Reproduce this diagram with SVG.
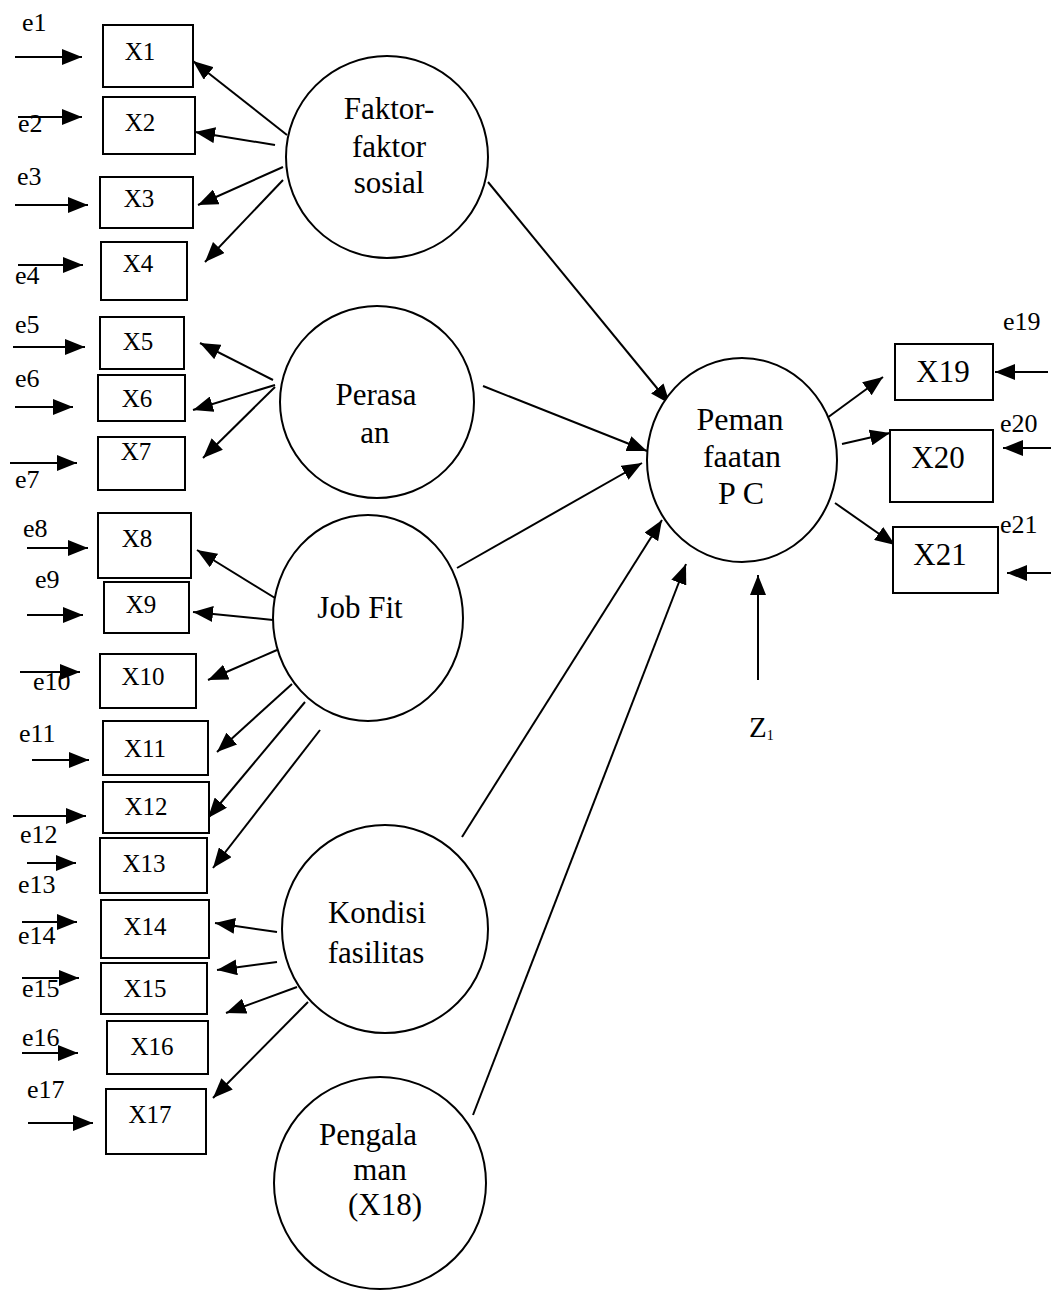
<svg xmlns="http://www.w3.org/2000/svg" width="1051" height="1295" viewBox="0 0 1051 1295">
<style>
.box{fill:#fff;stroke:#000;stroke-width:2}
.lat{fill:#fff;stroke:#000;stroke-width:2}
.t{font-family:"Liberation Serif","Times New Roman",serif;fill:#000}
.bl{font-size:25px;text-anchor:middle}
.br{font-size:31px;text-anchor:middle}
.cl{font-size:31px;text-anchor:middle}
.el{font-size:26px}
.c line{stroke:#000;stroke-width:2;marker-end:url(#ah)}
</style>
<defs>
<marker id="ah" markerUnits="userSpaceOnUse" markerWidth="22" markerHeight="16" refX="20" refY="8" orient="auto">
<path d="M0,0 L20,8 L0,16 z" fill="#000"/>
</marker>
</defs>
<rect width="1051" height="1295" fill="#fff"/>

<g id="connectors" class="c">
<line x1="15" y1="57" x2="82" y2="57"/>
<line x1="18" y1="117" x2="82" y2="117"/>
<line x1="15" y1="205" x2="88" y2="205"/>
<line x1="18" y1="265" x2="83" y2="265"/>
<line x1="13" y1="347" x2="85" y2="347"/>
<line x1="15" y1="407" x2="73" y2="407"/>
<line x1="10" y1="463" x2="77" y2="463"/>
<line x1="27" y1="548" x2="88" y2="548"/>
<line x1="27" y1="615" x2="83" y2="615"/>
<line x1="20" y1="672" x2="80" y2="672"/>
<line x1="32" y1="760" x2="89" y2="760"/>
<line x1="13" y1="816" x2="86" y2="816"/>
<line x1="27" y1="863" x2="76" y2="863"/>
<line x1="22" y1="922" x2="77" y2="922"/>
<line x1="22" y1="978" x2="79" y2="978"/>
<line x1="22" y1="1053" x2="78" y2="1053"/>
<line x1="28" y1="1123" x2="93" y2="1123"/>
<line x1="287" y1="135" x2="193" y2="61"/>
<line x1="275" y1="145" x2="195" y2="132"/>
<line x1="283" y1="167" x2="198" y2="205"/>
<line x1="283" y1="180" x2="205" y2="262"/>
<line x1="273" y1="380" x2="200" y2="343"/>
<line x1="275" y1="385" x2="193" y2="410"/>
<line x1="275" y1="387" x2="203" y2="458"/>
<line x1="275" y1="598" x2="197" y2="550"/>
<line x1="273" y1="620" x2="193" y2="612"/>
<line x1="277" y1="650" x2="208" y2="680"/>
<line x1="292" y1="684" x2="217" y2="752"/>
<line x1="305" y1="702" x2="208" y2="818"/>
<line x1="320" y1="730" x2="213" y2="868"/>
<line x1="277" y1="932" x2="215" y2="923"/>
<line x1="277" y1="962" x2="217" y2="970"/>
<line x1="297" y1="987" x2="226" y2="1013"/>
<line x1="308" y1="1002" x2="213" y2="1098"/>
<line x1="488" y1="182" x2="670" y2="404"/>
<line x1="483" y1="386" x2="647" y2="451"/>
<line x1="457" y1="568" x2="642" y2="463"/>
<line x1="462" y1="837" x2="662" y2="520"/>
<line x1="473" y1="1115" x2="686" y2="564"/>
<line x1="758" y1="680" x2="758" y2="575"/>
<line x1="827" y1="418" x2="883" y2="377"/>
<line x1="842" y1="444" x2="890" y2="433"/>
<line x1="835" y1="503" x2="895" y2="545"/>
<line x1="1048" y1="372" x2="995" y2="372"/>
<line x1="1051" y1="448" x2="1003" y2="448"/>
<line x1="1051" y1="573" x2="1007" y2="573"/>
</g>

<g id="X1"><rect class="box" x="103" y="25" width="90" height="62"/><text class="t bl" x="140" y="60">X1</text></g>
<g id="X2"><rect class="box" x="103" y="97" width="92" height="57"/><text class="t bl" x="140" y="131">X2</text></g>
<g id="X3"><rect class="box" x="100" y="177" width="93" height="51"/><text class="t bl" x="139" y="207">X3</text></g>
<g id="X4"><rect class="box" x="101" y="242" width="86" height="58"/><text class="t bl" x="138" y="272">X4</text></g>
<g id="X5"><rect class="box" x="100" y="317" width="84" height="52"/><text class="t bl" x="138" y="350">X5</text></g>
<g id="X6"><rect class="box" x="98" y="375" width="87" height="46"/><text class="t bl" x="137" y="407">X6</text></g>
<g id="X7"><rect class="box" x="98" y="437" width="87" height="53"/><text class="t bl" x="136" y="460">X7</text></g>
<g id="X8"><rect class="box" x="98" y="513" width="93" height="65"/><text class="t bl" x="137" y="547">X8</text></g>
<g id="X9"><rect class="box" x="104" y="582" width="85" height="51"/><text class="t bl" x="141" y="613">X9</text></g>
<g id="X10"><rect class="box" x="100" y="654" width="96" height="54"/><text class="t bl" x="143" y="685">X10</text></g>
<g id="X11"><rect class="box" x="103" y="721" width="105" height="54"/><text class="t bl" x="145" y="757">X11</text></g>
<g id="X12"><rect class="box" x="103" y="782" width="106" height="51"/><text class="t bl" x="146" y="815">X12</text></g>
<g id="X13"><rect class="box" x="100" y="838" width="107" height="55"/><text class="t bl" x="144" y="872">X13</text></g>
<g id="X14"><rect class="box" x="101" y="900" width="108" height="58"/><text class="t bl" x="145" y="935">X14</text></g>
<g id="X15"><rect class="box" x="101" y="963" width="106" height="51"/><text class="t bl" x="145" y="997">X15</text></g>
<g id="X16"><rect class="box" x="107" y="1021" width="101" height="53"/><text class="t bl" x="152" y="1055">X16</text></g>
<g id="X17"><rect class="box" x="106" y="1089" width="100" height="65"/><text class="t bl" x="150" y="1123">X17</text></g>

<g id="X19"><rect class="box" x="895" y="344" width="98" height="56"/><text class="t br" x="943" y="382">X19</text></g>
<g id="X20"><rect class="box" x="890" y="430" width="103" height="72"/><text class="t br" x="938" y="468">X20</text></g>
<g id="X21"><rect class="box" x="893" y="527" width="105" height="66"/><text class="t br" x="940" y="565">X21</text></g>

<g id="errors" class="t el">
<text x="22" y="31">e1</text>
<text x="18" y="132">e2</text>
<text x="17" y="185">e3</text>
<text x="15" y="284">e4</text>
<text x="15" y="333">e5</text>
<text x="15" y="387">e6</text>
<text x="15" y="488">e7</text>
<text x="23" y="537">e8</text>
<text x="35" y="588">e9</text>
<text x="33" y="690">e10</text>
<text x="19" y="742">e11</text>
<text x="20" y="843">e12</text>
<text x="18" y="893">e13</text>
<text x="18" y="944">e14</text>
<text x="22" y="997">e15</text>
<text x="22" y="1046">e16</text>
<text x="27" y="1098">e17</text>
<text x="1003" y="330">e19</text>
<text x="1000" y="432">e20</text>
<text x="1000" y="533">e21</text>
</g>

<g id="faktor"><ellipse class="lat" cx="387" cy="157" rx="101" ry="101"/>
<text class="t cl" x="389" y="119">Faktor-</text><text class="t cl" x="389" y="157">faktor</text><text class="t cl" x="389" y="193">sosial</text></g>
<g id="perasaan"><ellipse class="lat" cx="377" cy="402" rx="97" ry="96"/>
<text class="t cl" x="376" y="405">Perasa</text><text class="t cl" x="375" y="443">an</text></g>
<g id="jobfit"><ellipse class="lat" cx="368" cy="618" rx="95" ry="103"/>
<text class="t cl" x="360" y="618">Job Fit</text></g>
<g id="kondisi"><ellipse class="lat" cx="385" cy="929" rx="103" ry="104"/>
<text class="t cl" x="377" y="923">Kondisi</text><text class="t cl" x="376" y="963">fasilitas</text></g>
<g id="pengalaman"><ellipse class="lat" cx="380" cy="1183" rx="106" ry="106"/>
<text class="t cl" x="368" y="1145">Pengala</text><text class="t cl" x="380" y="1180">man</text><text class="t cl" x="385" y="1215">(X18)</text></g>
<g id="pemanfaatan"><ellipse class="lat" cx="742" cy="460" rx="95" ry="102"/>
<text class="t cl" x="740" y="430" style="font-size:32px">Peman</text><text class="t cl" x="742" y="467" style="font-size:32px">faatan</text><text class="t cl" x="741" y="504" style="font-size:32px">P C</text></g>
<g id="z1"><text class="t" x="749" y="737" style="font-size:29px">Z<tspan dy="3" style="font-size:14px">1</tspan></text></g>
</svg>
